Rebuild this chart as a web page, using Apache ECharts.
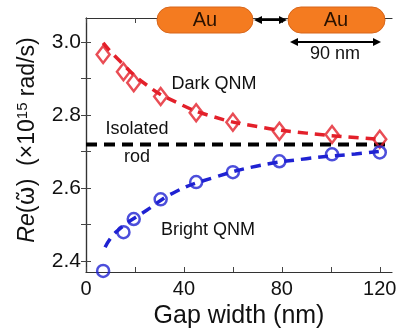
<!DOCTYPE html>
<html><head><meta charset="utf-8">
<script src="https://cdn.jsdelivr.net/npm/echarts@6/dist/echarts.min.js"></script>
<style>html,body{margin:0;padding:0;background:#fff}#c{width:398px;height:332px}</style>
</head><body><div id="c"></div>
<script>
const xTicks = [0, 20, 40, 60, 80, 100, 120];
const xLabels = [0, 40, 80, 120];
const yTicks = [2.4, 2.5, 2.6, 2.7, 2.8, 2.9, 3.0];
const yLabels = [2.4, 2.6, 2.8, 3.0];

const gapX = [7, 15.3, 19.5, 30.5, 45, 60, 79, 100.5, 120];
const darkY = [2.965, 2.918, 2.888, 2.85, 2.806, 2.78, 2.755, 2.746, 2.733];
const brightY = [2.373, 2.479, 2.515, 2.569, 2.616, 2.643, 2.673, 2.692, 2.697];

const darkFitX = [7, 12.8, 24.5, 37, 52, 70, 90, 110, 120];
const darkFitY = [2.997, 2.954, 2.883, 2.834, 2.795, 2.768, 2.750, 2.738, 2.733];
const brightFitX = [7.8, 12.7, 24.8, 37, 52, 70, 90, 110, 120];
const brightFitY = [2.438, 2.482, 2.539, 2.591, 2.628, 2.660, 2.680, 2.693, 2.700];

const isolatedX = [0, 125];
const isolatedY = [2.719, 2.719];

const RED = '#e3202a', BLUE = '#1f22d2';
const zip = (xs, ys) => xs.map((x, i) => [x, ys[i]]);
const FONT = 'Liberation Sans, Arial, sans-serif';

const chart = echarts.init(document.getElementById('c'));
const axisLineStyle = { color: '#333', width: 1.2 };
chart.setOption({
  animation: false,
  grid: { left: 86, right: 6, top: 18, bottom: 60, containLabel: false, outerBoundsMode: 'none' },
  xAxis: [{
    type: 'value', min: 0, max: 125, position: 'bottom',
    axisLine: { show: true, lineStyle: axisLineStyle },
    axisTick: { show: true, inside: true, length: 5, customValues: xTicks, lineStyle: { color: '#444' } },
    axisLabel: { customValues: xLabels, fontSize: 20, color: '#111', fontFamily: FONT, margin: 7 },
    splitLine: { show: false },
    name: 'Gap width (nm)', nameLocation: 'middle', nameGap: 31,
    nameTextStyle: { fontSize: 25, color: '#111', fontFamily: FONT }
  }, {
    type: 'value', min: 0, max: 125, position: 'top',
    axisLine: { show: true, lineStyle: axisLineStyle },
    axisTick: { show: true, inside: true, length: 5, customValues: xTicks, lineStyle: { color: '#444' } },
    axisLabel: { show: false }, splitLine: { show: false }
  }],
  yAxis: [{
    type: 'value', min: 2.37, max: 3.065, position: 'left',
    axisLine: { show: true, lineStyle: axisLineStyle },
    axisTick: { show: true, inside: true, length: 5, customValues: yTicks, lineStyle: { color: '#444' } },
    axisLabel: { customValues: yLabels, fontSize: 21, color: '#111', fontFamily: FONT, margin: 5,
      formatter: v => Number(v).toFixed(1) },
    splitLine: { show: false }
  }, {
    type: 'value', min: 2.37, max: 3.065, position: 'right',
    axisLine: { show: true, lineStyle: axisLineStyle },
    axisTick: { show: true, inside: true, length: 5, customValues: yTicks, lineStyle: { color: '#444' } },
    axisLabel: { show: false }, splitLine: { show: false }
  }],
  series: [
    { type: 'line', data: zip(isolatedX, isolatedY), symbol: 'none',
      lineStyle: { color: '#000', width: 4, type: [11, 7] }, z: 2 },
    { type: 'line', data: zip(darkFitX, darkFitY), smooth: true, symbol: 'none',
      lineStyle: { color: RED, width: 3.5, type: [10, 7] }, z: 3 },
    { type: 'line', data: zip(brightFitX, brightFitY), smooth: true, symbol: 'none',
      lineStyle: { color: BLUE, width: 3.5, type: [10, 7] }, z: 3 },
    { type: 'scatter', data: zip(gapX, darkY), symbol: 'diamond', symbolSize: [13, 17],
      itemStyle: { color: 'rgba(0,0,0,0)', borderColor: RED, borderWidth: 2.5 }, z: 4 },
    { type: 'scatter', data: zip(gapX, brightY), symbol: 'circle', symbolSize: 12,
      itemStyle: { color: 'rgba(0,0,0,0)', borderColor: BLUE, borderWidth: 2.5 }, z: 4 }
  ],
  graphic: [
    { type: 'text', x: 28, y: 140, rotation: Math.PI / 2,
      style: {
        text: '{it|Re}{n|(}{w|ω̃}{n|)  (×10}{sup|15}{n| rad/s)}',
        align: 'center', verticalAlign: 'middle',
        rich: {
          it: { fontSize: 23, fontStyle: 'italic', fill: '#111', fontFamily: FONT, lineHeight: 26 },
          n: { fontSize: 23, fill: '#111', fontFamily: FONT, lineHeight: 26 },
          w: { fontSize: 23, fill: '#111', fontFamily: 'DejaVu Sans', lineHeight: 26 },
          sup: { fontSize: 15, fill: '#111', fontFamily: FONT, verticalAlign: 'top', lineHeight: 26, padding: [0, 0, 9, 0] }
        }
      }, z: 11 },
    { type: 'rect', shape: { x: 157, y: 7, width: 96, height: 26, r: 13 }, style: { fill: '#f47b20', stroke: '#d8661a', lineWidth: 1 }, z: 10 },
    { type: 'rect', shape: { x: 288, y: 7, width: 97, height: 26, r: 13 }, style: { fill: '#f47b20', stroke: '#d8661a', lineWidth: 1 }, z: 10 },
    { type: 'text', x: 205, y: 20, style: { text: 'Au', fontSize: 20, fill: '#2a1200', font: '20px ' + FONT, align: 'center', verticalAlign: 'middle' }, z: 11 },
    { type: 'text', x: 336, y: 20, style: { text: 'Au', fontSize: 20, fill: '#2a1200', font: '20px ' + FONT, align: 'center', verticalAlign: 'middle' }, z: 11 },
    { type: 'line', shape: { x1: 258, y1: 20, x2: 283, y2: 20 }, style: { stroke: '#000', lineWidth: 2 }, z: 11 },
    { type: 'polygon', shape: { points: [[254, 20], [262, 16], [262, 24]] }, style: { fill: '#000' }, z: 11 },
    { type: 'polygon', shape: { points: [[287, 20], [279, 16], [279, 24]] }, style: { fill: '#000' }, z: 11 },
    { type: 'line', shape: { x1: 294, y1: 42, x2: 377, y2: 42 }, style: { stroke: '#000', lineWidth: 2 }, z: 11 },
    { type: 'polygon', shape: { points: [[290, 42], [298, 38], [298, 46]] }, style: { fill: '#000' }, z: 11 },
    { type: 'polygon', shape: { points: [[381, 42], [373, 38], [373, 46]] }, style: { fill: '#000' }, z: 11 },
    { type: 'text', x: 335, y: 54, style: { text: '90 nm', font: '18px ' + FONT, fill: '#111', align: 'center', verticalAlign: 'middle' }, z: 11 },
    { type: 'text', x: 214, y: 84, style: { text: 'Dark QNM', font: '18px ' + FONT, fill: '#111', align: 'center', verticalAlign: 'middle' }, z: 11 },
    { type: 'text', x: 137, y: 129, style: { text: 'Isolated', font: '18px ' + FONT, fill: '#111', align: 'center', verticalAlign: 'middle' }, z: 11 },
    { type: 'text', x: 137, y: 157, style: { text: 'rod', font: '18px ' + FONT, fill: '#111', align: 'center', verticalAlign: 'middle' }, z: 11 },
    { type: 'text', x: 208, y: 230, style: { text: 'Bright QNM', font: '18px ' + FONT, fill: '#111', align: 'center', verticalAlign: 'middle' }, z: 11 }
  ]
});
</script>
</body></html>
